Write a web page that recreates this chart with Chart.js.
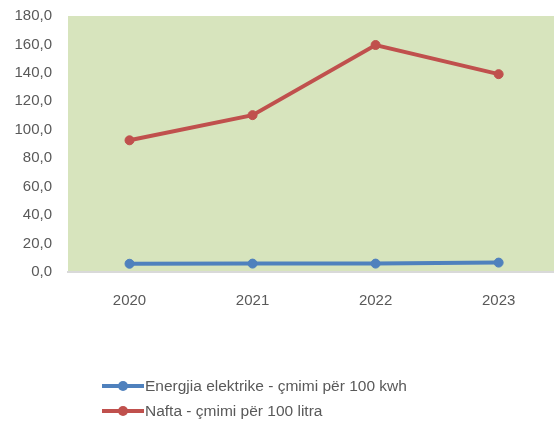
<!DOCTYPE html>
<html>
<head>
<meta charset="utf-8">
<script src="https://cdn.jsdelivr.net/npm/chart.js@4/dist/chart.umd.min.js"></script>
<style>
  html, body { margin: 0; padding: 0; background: #ffffff; }
  #wrap { position: relative; width: 554px; height: 428px; }
  #legend { position: absolute; left: 102px; top: 373px; font-family: 'Liberation Sans', Arial, sans-serif; font-size: 15.5px; color: #595959; }
  .item { display: flex; align-items: center; height: 25.5px; white-space: nowrap; }
  .sym { position: relative; width: 42px; height: 12px; margin-right: 1px; }
  .sym .ln { position: absolute; left: 0; right: 0; top: 4px; height: 4px; }
  .sym .dot { position: absolute; left: 16px; top: 1px; width: 10px; height: 10px; border-radius: 50%; }
</style>
</head>
<body>
<div id="wrap">
  <canvas id="c" width="554" height="428"></canvas>
  <div id="legend"></div>
</div>
<script>
const years = [2020, 2021, 2022, 2023];
const seriesNames = ['Energjia elektrike - çmimi për 100 kwh', 'Nafta - çmimi për 100 litra'];
const energjia = [5.8, 5.9, 5.9, 6.6];
const nafta = [92.6, 110.3, 159.6, 139.1];
const yTicks = [0, 20, 40, 60, 80, 100, 120, 140, 160, 180];

const colors = ['#4F81BD', '#C0504D'];
const textColor = '#595959';
const fontFamily = "'Liberation Sans', Arial, sans-serif";

function toPoints(vals) { return years.map((y, i) => ({ x: y, y: vals[i] })); }

const datasets = [energjia, nafta].map((vals, i) => ({
  label: seriesNames[i],
  data: toPoints(vals),
  borderColor: colors[i],
  backgroundColor: colors[i],
  borderWidth: 4,
  pointRadius: 4.5,
  pointBorderWidth: 1,
  pointBackgroundColor: colors[i],
  pointBorderColor: colors[i],
  tension: 0,
  clip: false
}));

const bgPlugin = {
  id: 'plotBg',
  beforeDraw(chart) {
    const { ctx, chartArea: a } = chart;
    ctx.save();
    ctx.fillStyle = '#D7E4BD';
    ctx.fillRect(a.left, a.top, a.right - a.left, a.bottom - a.top);
    ctx.restore();
  }
};

new Chart(document.getElementById('c'), {
  type: 'line',
  data: { datasets },
  plugins: [bgPlugin],
  options: {
    responsive: false,
    animation: false,
    layout: { autoPadding: false, padding: { top: 16, right: 0, left: 0, bottom: 0 } },
    plugins: { legend: { display: false }, tooltip: { enabled: false } },
    scales: {
      x: {
        type: 'linear',
        min: 2019.5,
        max: 2023.45,
        afterFit(s) { s.height = 156; s.paddingLeft = 0; s.paddingRight = 0; },
        afterBuildTicks(s) { s.ticks = years.map(v => ({ value: v })); },
        ticks: {
          padding: 20,
          color: textColor,
          font: { family: fontFamily, size: 15 },
          callback: v => String(v),
          maxRotation: 0
        },
        grid: { display: false, drawTicks: false },
        border: { display: true, color: '#D9D9D9', width: 2 }
      },
      y: {
        min: 0,
        max: 180,
        afterFit(s) { s.width = 68; s.paddingTop = 0; s.paddingBottom = 0; },
        afterBuildTicks(s) { s.ticks = yTicks.map(v => ({ value: v })); },
        ticks: {
          padding: 16,
          color: textColor,
          font: { family: fontFamily, size: 15 },
          callback: v => v.toFixed(1).replace('.', ',')
        },
        grid: { display: false, drawTicks: false },
        border: { display: false }
      }
    }
  }
});

const legend = document.getElementById('legend');
seriesNames.forEach((name, i) => {
  const item = document.createElement('div');
  item.className = 'item';
  item.innerHTML = '<div class="sym"><div class="ln" style="background:' + colors[i] + '"></div><div class="dot" style="background:' + colors[i] + '"></div></div><span></span>';
  item.querySelector('span').textContent = name;
  legend.appendChild(item);
});
</script>
</body>
</html>
